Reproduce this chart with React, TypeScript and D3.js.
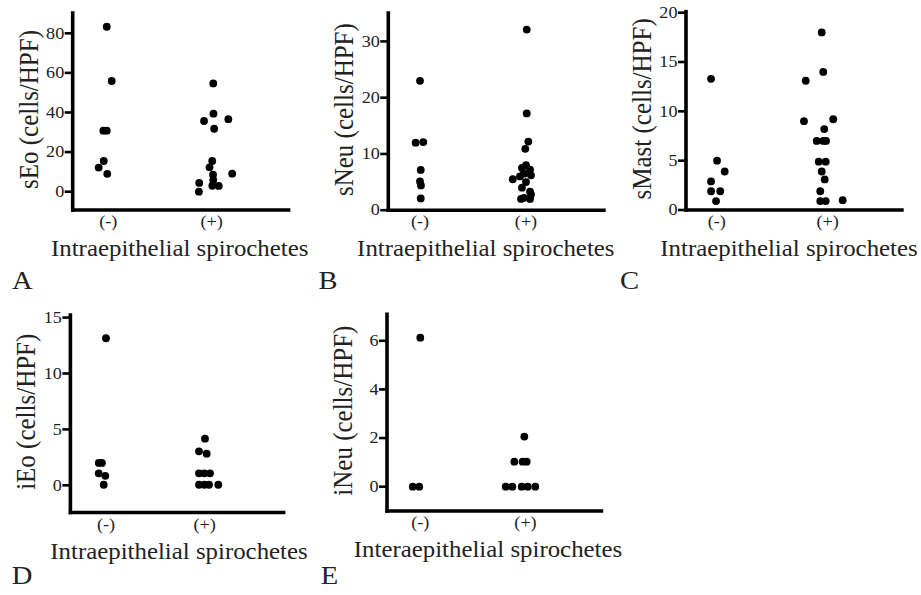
import React from 'react';
import * as d3 from 'd3';

// values; jitter = horizontal offset as a fraction of the group spacing
const groups = ['(-)', '(+)'];

const sEoMinus = [83.3, 55.9, 30.8, 30.8, 15.5, 12.2, 9.0];
const sEoMinusJitter = [-0.015, 0.033, -0.048, -0.015, -0.044, -0.093, -0.01];
const sEoPlus = [54.7, 39.4, 35.7, 36.6, 31.8, 15.5, 12.3, 9.1, 8.6, 5.9, 4.4, 3.0, 2.9, 0.0];
const sEoPlusJitter = [0.015, 0.017, -0.074, 0.161, 0.024, 0.005, -0.021, 0.198, 0.013, 0.015, -0.121, 0.006, 0.068, -0.124];

const sNeuMinus = [23.0, 12.0, 12.1, 7.15, 5.1, 4.4, 2.1];
const sNeuMinusJitter = [0, -0.041, 0.031, 0.007, 0, 0.009, 0.007];
const sNeuPlus = [32.1, 17.2, 12.2, 10.9, 8.0, 7.5, 7.2, 6.5, 6.2, 6.0, 5.5, 5.0, 4.0, 3.3, 2.8, 2.2, 2.0, 2.0];
const sNeuPlusJitter = [0.007, 0.007, 0.022, -0.007, 0, -0.038, 0.038, -0.019, 0.047, -0.057, -0.125, 0, -0.038, 0.038, 0.047, -0.019, 0.038, -0.047];

const sMastMinus = [13.3, 5.0, 3.9, 2.9, 1.9, 1.9, 0.9];
const sMastMinusJitter = [-0.051, 0.003, 0.072, -0.051, -0.051, 0.032, -0.006];
const sMastPlus = [18.0, 14.0, 13.1, 9.0, 9.2, 8.2, 7.0, 7.0, 7.0, 4.9, 4.9, 3.9, 3.1, 1.9, 0.9, 0.9, 1.0];
const sMastPlusJitter = [-0.054, -0.04, -0.198, -0.214, 0.05, -0.031, -0.099, -0.04, -0.015, -0.081, -0.018, -0.054, -0.027, -0.067, -0.067, -0.018, 0.135];

const iEoMinus = [13.15, 2.0, 2.0, 1.07, 0.85, 0.05];
const iEoMinusJitter = [0, -0.073, -0.041, -0.074, -0.007, -0.023];
const iEoPlus = [4.17, 3.04, 2.83, 1.07, 1.07, 1.07, 0.05, 0.05, 0.05, 0.05];
const iEoPlusJitter = [0.004, -0.057, 0.021, -0.057, -0.003, 0.055, -0.057, -0.003, 0.045, 0.139];

const iNeuMinus = [6.13, 0, 0];
const iNeuMinusJitter = [0, -0.072, -0.01];
const iNeuPlus = [2.06, 1.03, 1.03, 1.03, 0, 0, 0, 0, 0];
const iNeuPlusJitter = [-0.011, -0.106, -0.027, 0.011, -0.188, -0.125, -0.036, 0.021, 0.093];

const FONT = '"Liberation Serif", "Times New Roman", Times, "DejaVu Serif", serif';
const SX = 1.1; // the figure's lettering is slightly wide

const panels = [
    {letter: 'A', x0: 72.7, top: 13, bottom: 210, right: 288.7, domain: [-9.25, 90.25], ticks: [0, 20, 40, 60, 80],
        cats: [108.3, 211.7], yLabel: 'sEo (cells/HPF)', title: 'Intraepithelial spirochetes', titleX: 179.7,
        letterX: 12, letterY: 289, minus: sEoMinus, minusJ: sEoMinusJitter, plus: sEoPlus, plusJ: sEoPlusJitter},
    {letter: 'B', x0: 388.3, top: 13, bottom: 210.2, right: 604, domain: [0, 35.05], ticks: [0, 10, 20, 30],
        cats: [420, 526], yLabel: 'sNeu (cells/HPF)', title: 'Intraepithelial spirochetes', titleX: 485.8,
        letterX: 318.6, letterY: 289, minus: sNeuMinus, minusJ: sNeuMinusJitter, plus: sNeuPlus, plusJ: sNeuPlusJitter},
    {letter: 'C', x0: 686, top: 11.7, bottom: 210, right: 902, domain: [0, 20.1], ticks: [0, 5, 10, 15, 20],
        cats: [716.7, 827.7], yLabel: 'sMast (cells/HPF)', title: 'Intraepithelial spirochetes', titleX: 789,
        letterX: 620, letterY: 289, minus: sMastMinus, minusJ: sMastMinusJitter, plus: sMastPlus, plusJ: sMastPlusJitter},
    {letter: 'D', x0: 70.4, top: 315, bottom: 512.5, right: 283.7, domain: [-2.43, 15.23], ticks: [0, 5, 10, 15],
        cats: [106, 204.6], yLabel: 'iEo (cells/HPF)', title: 'Intraepithelial spirochetes', titleX: 179,
        letterX: 11.7, letterY: 584, minus: iEoMinus, minusJ: iEoMinusJitter, plus: iEoPlus, plusJ: iEoPlusJitter},
    {letter: 'E', x0: 387, top: 314.3, bottom: 511, right: 601.5, domain: [-1.0, 7.09], ticks: [0, 2, 4, 6],
        cats: [420.3, 525.5], yLabel: 'iNeu (cells/HPF)', title: 'Interaepithelial spirochetes', titleX: 488,
        letterX: 320.7, letterY: 584, minus: iNeuMinus, minusJ: iNeuMinusJitter, plus: iNeuPlus, plusJ: iNeuPlusJitter},
];

const txt = {fontFamily: FONT, fill: '#222'};

function Panel({p}) {
    const y = d3.scaleLinear().domain(p.domain).range([p.bottom, p.top]);
    const x = d3.scaleLinear().domain([0, 1]).range(p.cats);
    const dots = [
        ...p.minus.map((v, i) => ({v, g: 0 + p.minusJ[i]})),
        ...p.plus.map((v, i) => ({v, g: 1 + p.plusJ[i]})),
    ];
    const midY = (p.top + p.bottom) / 2 - 2;
    return (
        <g>
            {/* axes */}
            <line x1={p.x0} x2={p.x0} y1={p.top} y2={p.bottom} stroke="#000" strokeWidth={3.6} strokeLinecap="square"/>
            <line x1={p.x0} x2={p.right} y1={p.bottom} y2={p.bottom} stroke="#000" strokeWidth={3.4} strokeLinecap="square"/>
            {p.ticks.map(t => (
                <g key={t}>
                    <line x1={p.x0 - 8} x2={p.x0} y1={y(t)} y2={y(t)} stroke="#000" strokeWidth={2.6}/>
                    <text transform={`translate(${p.x0 - 8.5},${y(t)}) scale(${SX},1)`} textAnchor="end"
                          dominantBaseline="central" fontSize={16.5} style={txt}>{t}</text>
                </g>
            ))}
            {groups.map((g, i) => (
                <text key={g} transform={`translate(${x(i)},${p.bottom + 17}) scale(${SX},1)`} textAnchor="middle"
                      fontSize={16.5} style={txt}>{g}</text>
            ))}
            {dots.map((d, i) => (
                <circle key={i} cx={x(d.g)} cy={y(d.v)} r={3.9} fill="#000"/>
            ))}
            <text transform={`translate(${p.x0 - 35},${midY}) scale(${SX},1) rotate(-90)`} textAnchor="middle"
                  fontSize={25} style={txt}>{p.yLabel}</text>
            <text transform={`translate(${p.titleX},${p.bottom + 46}) scale(${SX},1)`} textAnchor="middle"
                  fontSize={22.6} style={txt}>{p.title}</text>
            <text transform={`translate(${p.letterX},${p.letterY}) scale(${SX},1)`} fontSize={26} style={txt}>{p.letter}</text>
        </g>
    );
}

export default function App() {
    return (
        <svg width={921} height={595} style={{position: 'absolute', left: 0, top: 0, background: '#fff'}}>
            <rect width={921} height={595} fill="#fff"/>
            {panels.map(p => <Panel key={p.letter} p={p}/>)}
        </svg>
    );
}
